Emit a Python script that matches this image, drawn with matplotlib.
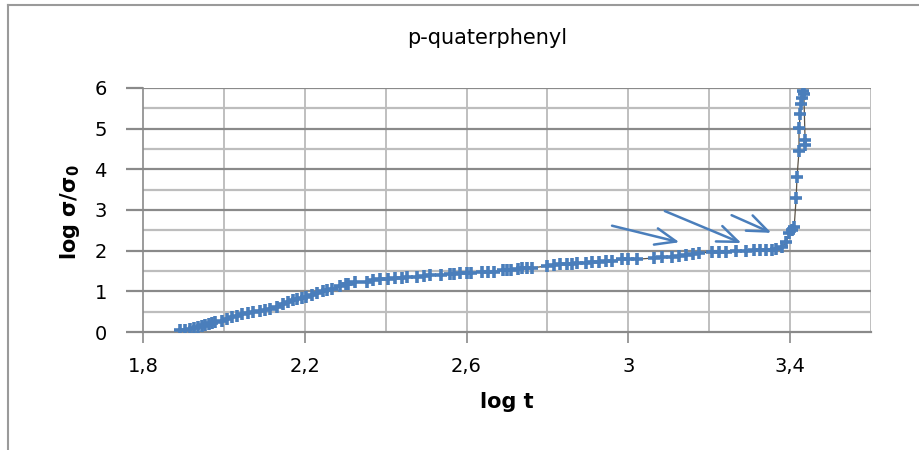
import numpy as np
import matplotlib
matplotlib.use("Agg")
import matplotlib.pyplot as plt
from matplotlib.lines import Line2D

plt.rcParams['font.family'] = ['DejaVu Sans']

# data (log t, log sigma/sigma0)
log_t = [1.891, 1.905, 1.916, 1.926, 1.936, 1.945, 1.953, 1.962, 1.970, 1.978,
         1.995, 2.007, 2.020, 2.032, 2.044, 2.059, 2.072, 2.089, 2.102, 2.114,
         2.131, 2.146, 2.158, 2.171, 2.182, 2.192, 2.204, 2.217, 2.229, 2.245,
         2.256, 2.267, 2.286, 2.303, 2.306, 2.323, 2.353, 2.368, 2.385, 2.405,
         2.422, 2.440, 2.452, 2.477, 2.495, 2.509, 2.538, 2.558, 2.570, 2.583,
         2.600, 2.612, 2.637, 2.652, 2.669, 2.689, 2.700, 2.711, 2.726, 2.736,
         2.750, 2.763, 2.798, 2.815, 2.830, 2.849, 2.860, 2.872, 2.896, 2.910,
         2.928, 2.945, 2.960, 2.985, 3.000, 3.022, 3.064, 3.084, 3.109, 3.125,
         3.143, 3.160, 3.175, 3.207, 3.225, 3.242, 3.267, 3.291, 3.311, 3.325,
         3.341, 3.355, 3.365, 3.380, 3.390, 3.398, 3.404, 3.410, 3.415, 3.417,
         3.422, 3.422, 3.425, 3.428, 3.430, 3.432, 3.434, 3.437, 3.436]
log_sigma = [0.05, 0.06, 0.07, 0.10, 0.12, 0.15, 0.17, 0.20, 0.22, 0.25,
             0.28, 0.32, 0.36, 0.39, 0.44, 0.47, 0.49, 0.52, 0.54, 0.56,
             0.62, 0.68, 0.74, 0.78, 0.81, 0.84, 0.86, 0.92, 0.96, 1.01,
             1.03, 1.05, 1.13, 1.17, 1.19, 1.23, 1.23, 1.27, 1.30, 1.31,
             1.32, 1.34, 1.35, 1.35, 1.37, 1.39, 1.40, 1.42, 1.43, 1.45,
             1.45, 1.46, 1.48, 1.48, 1.48, 1.52, 1.52, 1.52, 1.56, 1.57,
             1.57, 1.58, 1.62, 1.64, 1.67, 1.67, 1.68, 1.69, 1.70, 1.71,
             1.72, 1.74, 1.75, 1.79, 1.79, 1.79, 1.82, 1.84, 1.84, 1.86,
             1.89, 1.91, 1.94, 1.97, 1.97, 1.97, 1.99, 1.99, 2.01, 2.01,
             2.01, 2.02, 2.04, 2.09, 2.21, 2.43, 2.50, 2.58, 3.30, 3.80,
             4.45, 5.01, 5.35, 5.60, 5.75, 5.92, 5.85, 4.72, 4.60]

# hand drawn arrows: (tail x, tail y, head x, head y)
arrows = [(2.953, 2.63, 3.133, 2.19),
          (3.084, 3.00, 3.286, 2.16),
          (3.249, 2.90, 3.360, 2.41)]

x_ticks = [1.8, 2.2, 2.6, 3.0, 3.4]
x_tick_labels = ['1,8', '2,2', '2,6', '3', '3,4']
y_ticks = [0, 1, 2, 3, 4, 5, 6]

fig = plt.figure(figsize=(9.19, 4.5), dpi=100)
ax = fig.add_axes([143/919, 1-332/450, (871-143)/919, (332-88)/450])

# gridlines like excel
for v in np.arange(2.0, 3.61, 0.2):
    ax.axvline(v, color='#b4b4b4', lw=1.2, zorder=0)
for v in np.arange(0.5, 6, 1.0):
    ax.axhline(v, color='#bdbdbd', lw=1.6, zorder=0)
for v in range(1, 7):
    ax.axhline(v, color='#8a8a8a', lw=1.6, zorder=0)

ax.plot(log_t, log_sigma, color='#5b5347', lw=0.9, zorder=2)
ax.plot(log_t, log_sigma, ls='none', marker='+', ms=8, mew=2.6,
        color='#4a7ebb', zorder=3)

for x0, y0, x1, y1 in arrows:
    ax.annotate('', xy=(x1, y1), xytext=(x0, y0),
                arrowprops=dict(arrowstyle='->,head_length=1.5,head_width=0.6',
                                color='#4a7ebb', lw=1.8))

ax.set_xlim(1.8, 3.6)
ax.set_ylim(0, 6)
ax.set_xticks(x_ticks)
ax.set_xticklabels(x_tick_labels)
ax.set_yticks(y_ticks)
ax.tick_params(axis='x', direction='out', length=8, width=1.2, color='#8a8a8a',
               labelsize=14, pad=10)
ax.tick_params(axis='y', direction='out', length=12, width=1.6, color='#8a8a8a',
               labelsize=14, pad=14)

for s in ['top', 'right']:
    ax.spines[s].set_visible(False)
ax.spines['left'].set_color('#8a8a8a')
ax.spines['left'].set_linewidth(1.2)
ax.spines['bottom'].set_color('#8a8a8a')
ax.spines['bottom'].set_linewidth(1.6)

fig.text(487/919, 1-38/450, 'p-quaterphenyl', ha='center', va='center',
         fontsize=15)
fig.text(507/919, 1-402/450, 'log t', ha='center', va='center', fontsize=15,
         fontweight='bold')
fig.text(70/919, 1-212/450, 'log σ/σ$_\\mathbf{0}$', ha='center', va='center',
         fontsize=15, fontweight='bold', rotation=90)

# outer frame
fig.add_artist(Line2D([8/919, 8/919], [0, 1-5/450], color='#9a9a9a', lw=1.5,
                      transform=fig.transFigure))
fig.add_artist(Line2D([8/919, 1], [1-5/450, 1-5/450], color='#9a9a9a', lw=1.5,
                      transform=fig.transFigure))

fig.savefig('out.png', dpi=100)
